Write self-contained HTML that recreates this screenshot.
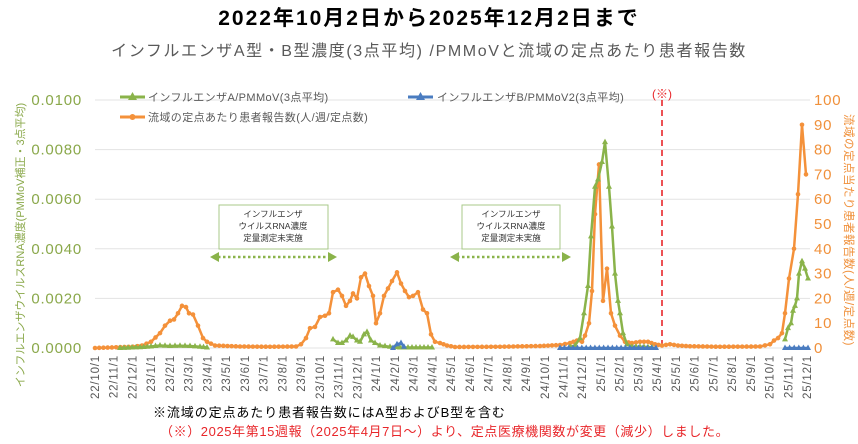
<!DOCTYPE html>
<html><head><meta charset="utf-8"><style>
body{margin:0;background:#fff;}
svg{display:block;font-family:"Liberation Sans","Noto Sans CJK JP",sans-serif;}
</style></head><body>
<svg id="s" width="858" height="444" viewBox="0 0 858 444" xmlns="http://www.w3.org/2000/svg">
<text x="429" y="25" text-anchor="middle" font-size="21" font-weight="bold" letter-spacing="2" fill="#000">2022年10月2日から2025年12月2日まで</text>
<text x="429" y="56" text-anchor="middle" font-size="16" letter-spacing="1.6" fill="#595959">インフルエンザA型・B型濃度(3点平均) /PMMoVと流域の定点あたり患者報告数</text>
<g id="grid" stroke="#e3e3e3" stroke-width="1"></g>
<g id="yl" font-size="15" letter-spacing="0.8" fill="#8aa84a" text-anchor="end"></g>
<g id="yr" font-size="15" letter-spacing="0.8" fill="#f0903a" text-anchor="start"></g>
<g id="xl" font-size="11.5" letter-spacing="0.8" fill="#595959"></g>
<text transform="translate(24,245) rotate(-90)" text-anchor="middle" font-size="11" fill="#8aa84a">インフルエンザウイルスRNA濃度(PMMoV補正・3点平均)</text>
<text transform="translate(845,230) rotate(90)" text-anchor="middle" font-size="11.5" letter-spacing="0.5" fill="#f0903a">流域の定点当たり患者報告数(人/週/定点数)</text>
<rect x="219" y="205" width="109" height="44" fill="#fff" stroke="#a9c98a"/>
<text font-size="8.5" fill="#333" text-anchor="middle"><tspan x="273" y="217">インフルエンザ</tspan><tspan x="273" y="229">ウイルスRNA濃度</tspan><tspan x="273" y="241">定量測定未実施</tspan></text>
<rect x="462" y="205" width="98" height="44" fill="#fff" stroke="#a9c98a"/>
<text font-size="8.5" fill="#333" text-anchor="middle"><tspan x="511" y="217">インフルエンザ</tspan><tspan x="511" y="229">ウイルスRNA濃度</tspan><tspan x="511" y="241">定量測定未実施</tspan></text>
<g stroke="#8ab34a" stroke-width="2.5" stroke-dasharray="2.5 2.5"><line x1="218" y1="257" x2="330" y2="257"/><line x1="457" y1="257" x2="564" y2="257"/></g>
<g fill="#8ab34a"><polygon points="210,257 219,252 219,262"/><polygon points="337,257 328,252 328,262"/><polygon points="450,257 459,252 459,262"/><polygon points="571,257 562,252 562,262"/></g>
<line x1="662" y1="100" x2="662" y2="348" stroke="#e8262a" stroke-width="1.6" stroke-dasharray="6 4"/>
<text x="662" y="98" text-anchor="middle" font-size="12" fill="#e8262a">(※)</text>
<g id="ser"></g>
<line x1="120" y1="97" x2="145" y2="97" stroke="#8ab34a" stroke-width="3"/><polygon points="132.5,92 137,100 128,100" fill="#8ab34a"/>
<text x="148" y="101" font-size="11" letter-spacing="0.4" fill="#595959">インフルエンザA/PMMoV(3点平均)</text>
<line x1="408" y1="97" x2="433" y2="97" stroke="#4a7cc0" stroke-width="3"/><polygon points="420.5,92 425,100 416,100" fill="#4a7cc0"/>
<text x="437" y="101" font-size="11" letter-spacing="0.4" fill="#595959">インフルエンザB/PMMoV2(3点平均)</text>
<line x1="120" y1="117" x2="145" y2="117" stroke="#f4913a" stroke-width="3"/><circle cx="132.5" cy="117" r="3" fill="#f4913a"/>
<text x="148" y="121" font-size="11" letter-spacing="0.4" fill="#595959">流域の定点あたり患者報告数(人/週/定点数)</text>
<text x="153" y="417" font-size="13" letter-spacing="0.9" fill="#000">※流域の定点あたり患者報告数にはA型およびB型を含む</text>
<text x="160" y="436" font-size="13" letter-spacing="0.6" fill="#e8262a">（※）2025年第15週報（2025年4月7日～）より、定点医療機関数が変更（減少）しました。</text>
</svg>
<script>
const NS="http://www.w3.org/2000/svg";
function el(p,t,a){const e=document.createElementNS(NS,t);for(const k in a)e.setAttribute(k,a[k]);document.getElementById(p).appendChild(e);return e;}
const Y=v=>348-v*2.48;
for(let i=0;i<=5;i++){const y=348-i*49.6;el("grid","line",{x1:95,x2:810,y1:y,y2:y});const t=el("yl","text",{x:82,y:y+5});t.textContent=(i*0.002).toFixed(4);}
for(let i=0;i<=10;i++){const y=348-i*24.8;const t=el("yr","text",{x:814,y:y+5});t.textContent=i*10;}
let m=[];for(let yy=22,mo=10;;){m.push(yy+"/"+mo+"/1");if(yy==25&&mo==12)break;mo++;if(mo>12){mo=1;yy++;}}
m.forEach((s,i)=>{const x=95+18.74*i;const t=el("xl","text",{transform:`translate(${x+4},355) rotate(-90)`,"text-anchor":"end"});t.textContent=s;});
function interp(pts,step){let out=[];for(let i=0;i<pts.length-1;i++){const[a,b]=pts[i],[c,d]=pts[i+1];const n=Math.max(1,Math.round((c-a)/step));for(let k=0;k<n;k++)out.push([a+(c-a)*k/n,b+(d-b)*k/n]);}out.push(pts[pts.length-1]);return out;}
function series(pts,col,mark,dense){const p=dense?interp(pts,4.3):pts;el("ser","polyline",{points:p.map(q=>q[0]+","+Y(q[1])).join(" "),fill:"none",stroke:col,"stroke-width":2.5,"stroke-linejoin":"round"});p.forEach(q=>{const x=q[0],y=Y(q[1]);if(mark=="c")el("ser","circle",{cx:x,cy:y,r:2.3,fill:col});else el("ser","polygon",{points:`${x},${y-3.5} ${x+3},${y+2} ${x-3},${y+2}`,fill:col});});}
const orange=[[95,0],[133,0.5],[142,1],[151,2.5],[160,6],[165,9],[170,11],[174,11.5],[178,14],[182,17],[186,16.5],[189,14],[193,13.5],[198,9],[203,4],[207,2.5],[215,1],[240,0.6],[270,0.5],[296,0.6],[301,1.5],[306,4],[310,8],[315,8.5],[320,12.5],[325,13],[329,14],[333,22.5],[338,23.5],[342,21],[346,17],[350,19],[353,22],[357,20],[361,28.5],[365,30],[369,25],[373,21],[376,10],[380,14],[384,21],[388,24],[392,27],[397,30.5],[401,26],[405,23],[409,20.5],[413,21],[418,22.5],[423,15.5],[427,14],[431,5.5],[435,2.5],[440,2],[447,1],[455,0.4],[500,0.5],[540,0.8],[560,1.2],[570,2],[577,3],[582,2.5],[585,5],[589,10],[592,23],[595,54],[599,74],[603,19],[607,32],[611,14],[615,9],[620,5],[625,2.5],[632,2],[640,2.5],[648,2.5],[655,1.5],[662,1],[670,1.5],[678,1],[690,0.7],[720,0.5],[760,0.6],[770,1.5],[774,3],[778,4],[782,6],[785,14],[789,28],[794,40],[798,62],[802,90],[806,70]];
series(orange,"#f4913a","c",true);
const gA1=[[120,0],[140,0.3],[151,0.6],[160,1],[170,0.8],[180,0.9],[190,0.8],[200,0.5],[207,0.2]];
const gA2=[[333,3.5],[338,2],[342,2],[346,3],[350,5],[353,4.5],[357,3],[360,2.5],[364,5.5],[367,6.5],[371,3],[375,2],[380,1],[390,0.5],[400,0.2],[420,0.2],[432,0.2]];
const gA3=[[570,0.5],[575,1],[580,4],[584,14],[588,25],[591,45],[595,65],[598,68],[602,75],[605,83],[609,65],[612,49],[615,30],[618,19],[620,14],[623,6],[627,1.5],[632,0.5],[640,0.5],[652,0.3]];
const gA4=[[785,3.5],[788,8],[791,10],[793,15],[795,17],[797,20],[799,30],[802,35],[805,32],[808,28]];
[gA1,gA2,gA3,gA4].forEach(s=>series(s,"#8ab34a","t",true));
series([[393,0],[397,1.5],[401,2],[404,0.5]],"#4a7cc0","t",false);
series([[560,0],[656,0]],"#4a7cc0","t",true);
series([[785,0],[808,0]],"#4a7cc0","t",true);
</script>
</body></html>
